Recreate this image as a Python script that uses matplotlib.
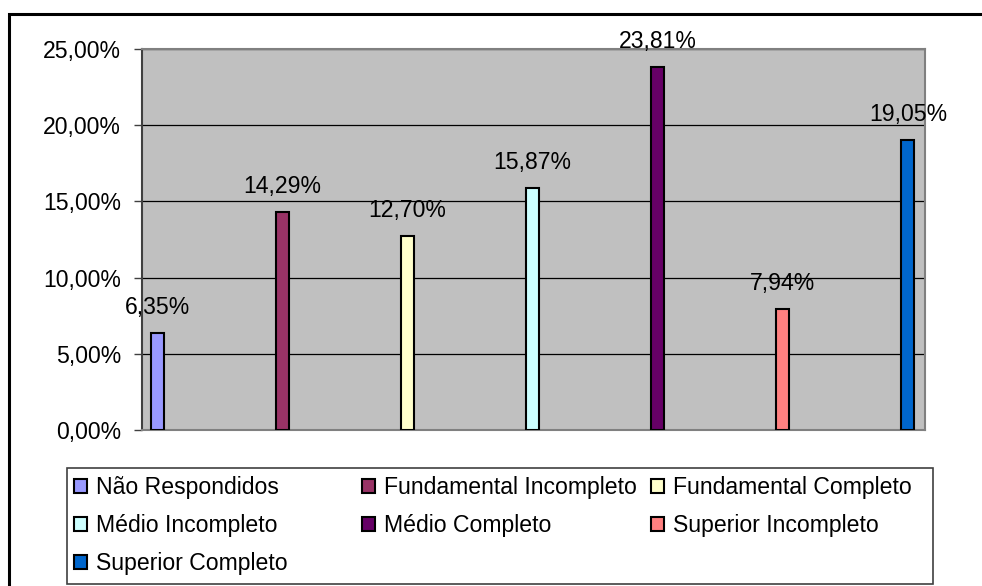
import matplotlib.pyplot as plt
from matplotlib.patches import Rectangle

plt.rcParams['font.family'] = ['Liberation Sans', 'DejaVu Sans']

categorias = ["Não Respondidos", "Fundamental Incompleto", "Fundamental Completo",
              "Médio Incompleto", "Médio Completo", "Superior Incompleto",
              "Superior Completo"]
valores = [6.35, 14.29, 12.70, 15.87, 23.81, 7.94, 19.05]
cores = ["#9999FF", "#993366", "#FFFFCC", "#CCFFFF", "#660066", "#FF8080", "#0066CC"]
yticks = [0, 5, 10, 15, 20, 25]

W, H = 982, 586
fig = plt.figure(figsize=(W / 100, H / 100), dpi=100)
ax = fig.add_axes([142 / W, 1 - 430 / H, 783 / W, 381 / H])
ax.set_facecolor("#C0C0C0")

fs = 16.6
bars = []
for i, (c, v, cor) in enumerate(zip(categorias, valores, cores)):
    b = ax.bar(i, v, width=0.104, color=cor, edgecolor="black", linewidth=1.5,
               label=c, zorder=3)
    bars.append(b)
    ax.annotate(f"{v:.2f}%".replace(".", ","), (i, v), xytext=(0, 13.7),
                textcoords="offset points", ha="center", va="baseline",
                fontsize=fs, zorder=4)

ax.set_xlim(-0.12, 6.136)
ax.set_ylim(0, 25)
ax.set_yticks(yticks)
ax.set_yticklabels([f"{t:.2f}%".replace(".", ",") for t in yticks], fontsize=fs)
ax.set_xticks([])
ax.tick_params(axis="y", length=6, width=1, color="#404040", pad=9)
ax.grid(axis="y", color="black", linewidth=0.9, zorder=1)
for s in ["top", "right", "bottom"]:
    ax.spines[s].set_color("#808080")
    ax.spines[s].set_linewidth(1.5)
ax.spines["left"].set_color("#404040")
ax.spines["left"].set_linewidth(1.5)

# caixa da legenda
fig.patches.append(Rectangle((67 / W, 1 - 584 / H), (933 - 67) / W, (584 - 468) / H,
                             transform=fig.transFigure, facecolor="none",
                             edgecolor="#404040", linewidth=1.2))
# moldura externa (cortada à direita e embaixo)
fig.patches.append(Rectangle((9 / W, -0.05), 1.1, 1.05 - 14 / H,
                             transform=fig.transFigure, facecolor="none",
                             edgecolor="black", linewidth=2.2))

colunas = [[0, 3, 6], [1, 4], [2, 5]]
xs = [74, 362, 651]
for col, x0 in zip(colunas, xs):
    fig.legend([bars[k] for k in col], [categorias[k] for k in col],
               loc="upper left", bbox_to_anchor=(x0 / W, 1 - 476 / H),
               frameon=False, fontsize=fs, borderpad=0, borderaxespad=0,
               handlelength=0.57, handleheight=0.57, handletextpad=0.4,
               labelspacing=0.65)

fig.savefig("out.png", dpi=100)
